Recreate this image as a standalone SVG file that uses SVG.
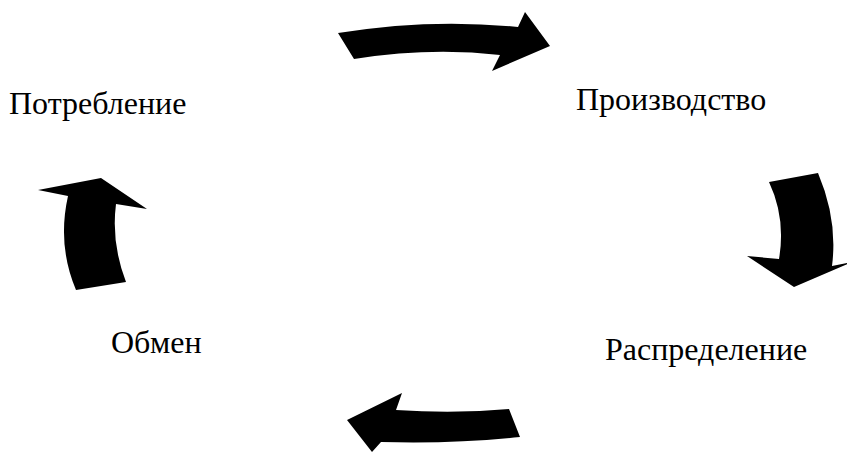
<svg xmlns="http://www.w3.org/2000/svg" width="847" height="452" viewBox="0 0 847 452">
<style>
.lbl{font-family:"Liberation Serif","Times New Roman",serif;font-size:32px;fill:#000}
.arr{fill:#000;stroke:none}
</style>
<rect width="847" height="452" fill="#fff"/>
<g id="connectors">
<path class="arr" d="M338,33 Q430,18 518,27 L525,12 L550,46 L492,71 L500,55 Q430,47 354,59 Z"/>
<path class="arr" d="M769,182 L818,173 Q838,220 832,266 L852,262 L794,287 L747,256 L779,259 Q786,218 769,182 Z"/>
<path class="arr" d="M509,409 Q455,414 396,410 L402,393 L347,420 L372,452 L381,442 Q455,444 520,437 Z"/>
<path class="arr" d="M76,290 L126,282 Q111,243 116,204 L147,209 L101,178 L38,190 L68,196 Q57,245 76,290 Z"/>
</g>
<g id="node-potreblenie"><text class="lbl" x="9" y="114">Потребление</text></g>
<g id="node-proizvodstvo"><text class="lbl" x="576" y="110">Производство</text></g>
<g id="node-obmen"><text class="lbl" x="111" y="353">Обмен</text></g>
<g id="node-raspredelenie"><text class="lbl" x="605" y="360">Распределение</text></g>
</svg>
